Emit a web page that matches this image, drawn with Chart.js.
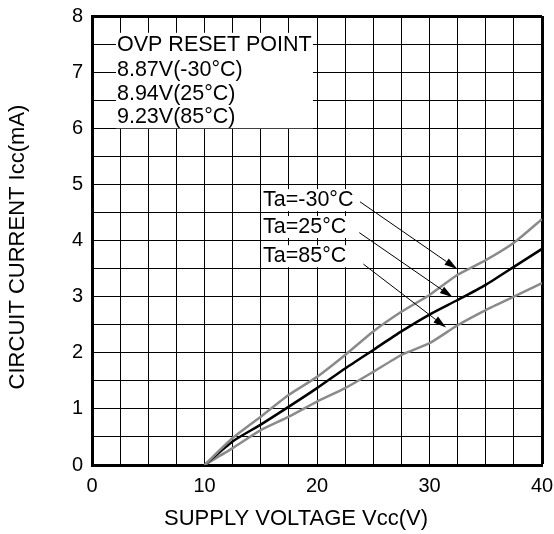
<!DOCTYPE html>
<html>
<head>
<meta charset="utf-8">
<script src="https://cdn.jsdelivr.net/npm/chart.js@4.4.0/dist/chart.umd.min.js"></script>
<style>
  html, body { margin: 0; padding: 0; background: #fff; }
  #wrap { width: 554px; height: 534px; }
</style>
</head>
<body>
<div id="wrap"><canvas id="grafico"></canvas></div>
<script>
// Dados (Vcc em V, Icc em mA)
const tensao = [10, 12.5, 15, 17.5, 20, 22.5, 25, 27.5, 30, 32.5, 35, 37.5, 40];
const correnteMenos30 = [0, 0.48, 0.86, 1.25, 1.57, 1.96, 2.38, 2.73, 3.03, 3.39, 3.65, 3.96, 4.38];
const corrente25 = [0, 0.42, 0.72, 1.04, 1.37, 1.72, 2.05, 2.38, 2.68, 2.94, 3.21, 3.53, 3.85];
const corrente85 = [0, 0.30, 0.62, 0.86, 1.13, 1.37, 1.66, 1.96, 2.17, 2.49, 2.76, 3.00, 3.24];

const xRotulos = [0, 10, 20, 30, 40];
const yRotulos = [0, 1, 2, 3, 4, 5, 6, 7, 8];

const ovpTexto = ['OVP RESET POINT', '8.87V(-30°C)', '8.94V(25°C)', '9.23V(85°C)'];
const rotulosTa = ['Ta=-30°C', 'Ta=25°C', 'Ta=85°C'];

// Posições das anotações (em unidades do gráfico)
const ovpCaixa = { x0: 2.13, x1: 19.64, y0: 6.0, y1: 7.7 };
const ovpLinhas = [7.48, 7.04, 6.61, 6.20];
const ovpX = 2.22;
const taX = 15.2;
const taLinhas = [4.72, 4.24, 3.72];
const setas = [
  { de: [23.82, 4.69], para: [32.47, 3.49] },
  { de: [23.76, 4.14], para: [32.06, 2.99] },
  { de: [24.12, 3.58], para: [31.47, 2.45] }
];

const FONTE = "'Liberation Sans', Arial, sans-serif";

function pontos(ys) {
  return tensao.map((v, i) => ({ x: v, y: ys[i] }));
}

const anotacoes = {
  id: 'anotacoes',
  beforeDatasetsDraw(chart) {
    const { ctx, scales: { x, y } } = chart;
    ctx.save();
    // caixa OVP
    ctx.fillStyle = '#fff';
    const bx0 = x.getPixelForValue(ovpCaixa.x0), bx1 = x.getPixelForValue(ovpCaixa.x1);
    const by0 = y.getPixelForValue(ovpCaixa.y1), by1 = y.getPixelForValue(ovpCaixa.y0);
    ctx.fillRect(bx0, by0, bx1 - bx0, by1 - by0);
    ctx.font = '21.5px ' + FONTE;
    ctx.fillStyle = '#000';
    ctx.textBaseline = 'middle';
    ctx.textAlign = 'left';
    ovpTexto.forEach((t, i) => {
      ctx.fillText(t, x.getPixelForValue(ovpX), y.getPixelForValue(ovpLinhas[i]));
    });
    // rótulos Ta
    rotulosTa.forEach((t, i) => {
      const px = x.getPixelForValue(taX);
      const py = y.getPixelForValue(taLinhas[i]);
      const w = ctx.measureText(t).width;
      ctx.fillStyle = '#fff';
      ctx.fillRect(px - 2, py - 11, w + 4, 22);
      ctx.fillStyle = '#000';
      ctx.fillText(t, px, py);
    });
    ctx.restore();
  },
  afterDatasetsDraw(chart) {
    const { ctx, scales: { x, y } } = chart;
    ctx.save();
    ctx.strokeStyle = '#000';
    ctx.fillStyle = '#000';
    ctx.lineWidth = 1;
    setas.forEach(s => {
      const x0 = x.getPixelForValue(s.de[0]), y0 = y.getPixelForValue(s.de[1]);
      const x1 = x.getPixelForValue(s.para[0]), y1 = y.getPixelForValue(s.para[1]);
      const ang = Math.atan2(y1 - y0, x1 - x0);
      const len = 13, meia = 3.8;
      const bx = x1 - len * Math.cos(ang), by = y1 - len * Math.sin(ang);
      ctx.beginPath();
      ctx.moveTo(x0, y0);
      ctx.lineTo(bx, by);
      ctx.stroke();
      ctx.beginPath();
      ctx.moveTo(x1, y1);
      ctx.lineTo(bx + meia * Math.sin(ang), by - meia * Math.cos(ang));
      ctx.lineTo(bx - meia * Math.sin(ang), by + meia * Math.cos(ang));
      ctx.closePath();
      ctx.fill();
    });
    ctx.restore();
  },
  afterDraw(chart) {
    const { ctx, chartArea } = chart;
    ctx.save();
    ctx.font = '22px ' + FONTE;
    ctx.fillStyle = '#000';
    ctx.textAlign = 'center';
    ctx.textBaseline = 'middle';
    ctx.fillText('SUPPLY VOLTAGE Vcc(V)', chartArea.left + 204, 519);
    ctx.translate(18, chartArea.top + 231);
    ctx.rotate(-Math.PI / 2);
    ctx.fillText('CIRCUIT CURRENT Icc(mA)', 0, 0);
    ctx.restore();
  }
};

function larguraGrade(maximo) {
  return c => (c.tick && c.tick.value === maximo ? 3 : 1);
}

new Chart(document.getElementById('grafico'), {
  type: 'line',
  data: {
    datasets: [
      { label: 'Ta=-30°C', data: pontos(correnteMenos30), borderColor: '#8a8a8a', borderWidth: 2.5, pointRadius: 0, tension: 0.2, fill: false },
      { label: 'Ta=25°C', data: pontos(corrente25), borderColor: '#000', borderWidth: 2.5, pointRadius: 0, tension: 0.2, fill: false },
      { label: 'Ta=85°C', data: pontos(corrente85), borderColor: '#8a8a8a', borderWidth: 2.5, pointRadius: 0, tension: 0.2, fill: false }
    ]
  },
  options: {
    responsive: true,
    maintainAspectRatio: false,
    animation: false,
    layout: { padding: { top: 16, right: 12, left: 0, bottom: 0 } },
    plugins: { legend: { display: false }, tooltip: { enabled: false }, title: { display: false } },
    scales: {
      x: {
        type: 'linear',
        min: 0,
        max: 40,
        afterFit: s => { s.height = 69; s.paddingLeft = 0; s.paddingRight = 0; },
        ticks: {
          stepSize: 2.5,
          autoSkip: false,
          maxRotation: 0,
          padding: 9,
          color: '#000',
          font: { family: FONTE, size: 20 },
          callback: v => (xRotulos.includes(v) ? v : '')
        },
        grid: { color: '#000', lineWidth: larguraGrade(40), drawTicks: false },
        border: { color: '#000', width: 3 }
      },
      y: {
        min: 0,
        max: 8,
        afterFit: s => { s.width = 92; s.paddingTop = 0; s.paddingBottom = 0; },
        ticks: {
          stepSize: 0.5,
          autoSkip: false,
          padding: 9,
          color: '#000',
          font: { family: FONTE, size: 20 },
          callback: v => (yRotulos.includes(v) ? v : '')
        },
        grid: { color: '#000', lineWidth: larguraGrade(8), drawTicks: false },
        border: { color: '#000', width: 3 }
      }
    }
  },
  plugins: [anotacoes]
});
</script>
</body>
</html>
